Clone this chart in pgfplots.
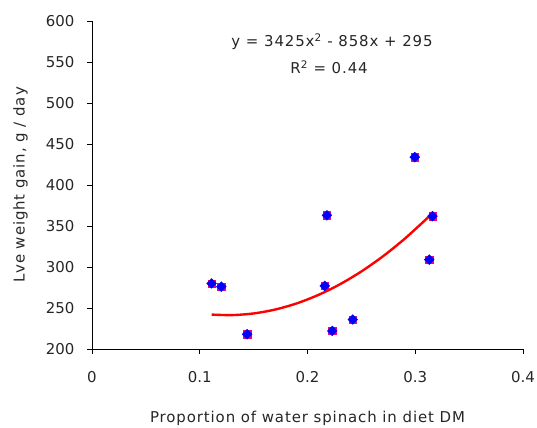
\documentclass[border=0pt]{standalone}
\usepackage{pgfplots}
\pgfplotsset{compat=1.18}
\usepackage{fontspec}
\setmainfont{DejaVu Sans}
\newfontfamily\labelfont{DejaVu Sans}[LetterSpace=6]
\newcommand{\lf}{\fontsize{15}{18}\selectfont}
\newcommand{\wf}{\labelfont\fontsize{15}{18}\selectfont}
\begin{document}
\begin{tikzpicture}
\useasboundingbox (-92bp,-79bp) rectangle (445bp,349bp);
\begin{axis}[
  scale only axis,
  width=431bp, height=328bp,
  xmin=0, xmax=0.4, ymin=200, ymax=600,
  xtick={0,0.1,0.2,0.3,0.4},
  ytick={200,250,300,350,400,450,500,550,600},
  axis x line=bottom, axis y line=left,
  axis line style={-, black, line width=0.8pt},
  tick align=outside,
  major tick length=5bp,
  tick style={black, line width=0.8pt},
  /pgf/number format/assume math mode=true,
  ticklabel style={font=\lf, text=black!85},
  xticklabel style={yshift=-14bp},
  yticklabel style={xshift=-9bp},
  xlabel={Proportion of water spinach in diet DM},
  ylabel={Lve weight gain, g / day},
  every axis x label/.style={at={(axis description cs:0.5,-0.212)}, anchor=center, font=\wf, text=black!85},
  every axis y label/.style={at={(axis description cs:-0.166,0.5)}, rotate=90, anchor=center, font=\wf, text=black!85},
  clip=false,
]
\addplot[only marks, mark=square*, mark size=3.7pt, mark options={fill=magenta, draw=magenta}] coordinates {
(0.111,280) (0.120,276) (0.144,218) (0.216,277) (0.218,363) (0.223,222) (0.242,236) (0.2995,434) (0.313,309) (0.316,362)
};
\addplot[only marks, mark=square*, mark size=3.5pt, mark options={fill=blue, draw=blue, rotate=45}] coordinates {
(0.111,280) (0.120,276) (0.144,218) (0.216,277) (0.218,363) (0.223,222) (0.242,236) (0.2995,434) (0.313,309) (0.316,362)
};
\addplot[red, line width=2.4pt, smooth, no marks] coordinates {
(0.111,241.96) (0.13,241.34) (0.15,243.36) (0.17,248.12) (0.19,255.62) (0.21,265.86) (0.23,278.84) (0.25,294.56) (0.27,313.02) (0.29,334.22) (0.31,358.16) (0.316,365.88)
};
\node[font=\wf, text=black!85] at (axis cs:0.2228,575) {y = 3425x\textsuperscript{2} - 858x + 295};
\node[font=\wf, text=black!85] at (axis cs:0.220,544) {R\textsuperscript{2} = 0.44};
\end{axis}
\end{tikzpicture}
\end{document}
